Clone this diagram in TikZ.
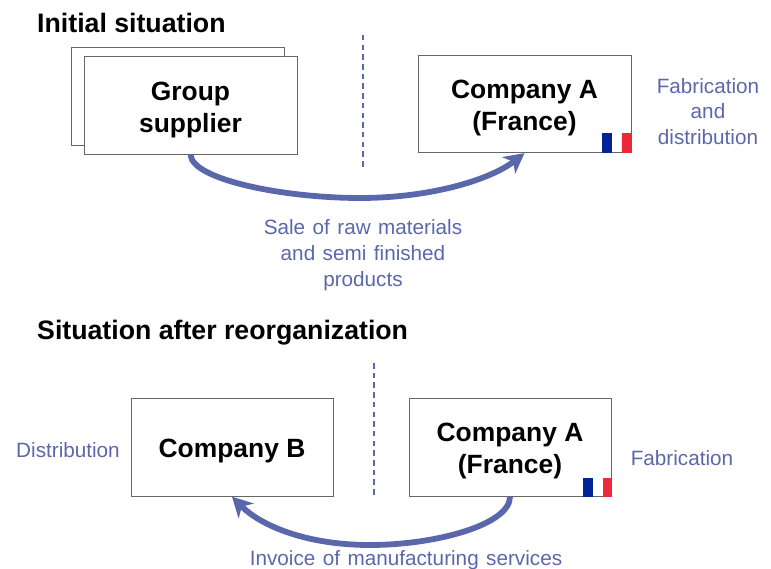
\documentclass[tikz,border=0pt]{standalone}
\usepackage{fontspec}
\setmainfont{Liberation Sans}
\newfontfamily\widefont[WordSpace=1.3]{Liberation Sans}
\usetikzlibrary{arrows.meta}
\definecolor{accent}{HTML}{5B67AB}
\definecolor{boxline}{HTML}{666666}
\definecolor{flagblue}{HTML}{002395}
\definecolor{flagred}{HTML}{ED2939}
\newcommand{\lift}[1]{\rule{0pt}{#1}}
\tikzset{
  x=1pt,y=-1pt,
  company/.style={draw=boxline,fill=white,line width=0.8pt,minimum width=#1,minimum height=97.5pt,inner sep=0pt,align=center,font=\fontsize{26.4}{32}\selectfont\bfseries},
  company/.default=213pt,
  heading/.style={anchor=base west,inner sep=0pt,font=\fontsize{26.7}{30}\selectfont\bfseries},
  note/.style={text=accent,align=center,inner sep=0pt,font=\fontsize{20.7}{25.7}\selectfont},
  widenote/.style={note,font=\widefont\fontsize{20.7}{25.7}\selectfont},
  divider/.style={draw=accent,line width=2pt,dash pattern=on 5.5pt off 4.2pt},
  flow/.style={draw=accent,line width=5.8pt,-{Stealth[length=20pt,width=21pt,inset=6pt]}}
}
\begin{document}
\begin{tikzpicture}
\useasboundingbox (0,0) rectangle (771,569);
\node[heading] (t1) at (37,33) {Initial situation};
\node[heading] (t2) at (37,339) {Situation after reorganization};

\node[company] (back) at (177.5,96.5) {};
\node[company] (group) at (190.5,105.5) {\lift{27pt}Group\\supplier};
\node[company] (a1) at (524.5,104) {\lift{26pt}Company A\\(France)};
\node[company=202pt] (b) at (232,447.5) {\lift{25pt}Company B};
\node[company=202pt] (a2) at (510,447.5) {\lift{26pt}Company A\\(France)};

\coordinate (d1a) at (363,35); \coordinate (d1b) at (363,169);
\coordinate (d2a) at (374,363); \coordinate (d2b) at (374,498);
\draw[divider] (d1a) -- (d1b);
\draw[divider] (d2a) -- (d2b);

\fill[flagblue] (602,133) rectangle (612,153);
\fill[white] (612,133) rectangle (622,152.4);
\fill[flagred] (622,133) rectangle (632,153);
\fill[flagblue] (583,478) rectangle (593,497);
\fill[white] (593,478) rectangle (603,496);
\fill[flagred] (603,478) rectangle (612,497);

\coordinate (m1) at (360,198);
\coordinate (m2) at (370,545);
\draw[flow] (group.south) .. controls (192,180) and (285,198) .. (m1) .. controls (430,198) and (490,180) .. (a1.south);
\draw[flow] (a2.south) .. controls (510,525) and (435,545) .. (m2) .. controls (305,545) and (260,525) .. (b.south);

\node[note] (n1) at (708,111.5) {Fabrication\\and\\distribution};
\node[widenote] (n2) at (363,255) {Sale of raw materials\\and semi finished\\products};
\node[note] (n3) at (68,450) {Distribution};
\node[note] (n4) at (682,458) {Fabrication};
\node[widenote] (n5) at (406,560.5) {Invoice of manufacturing services};
\end{tikzpicture}
\end{document}
